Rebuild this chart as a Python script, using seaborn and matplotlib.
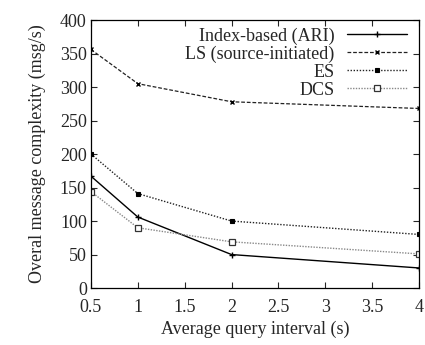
import matplotlib
matplotlib.use("Agg")
import matplotlib.pyplot as plt
import seaborn as sns
import pandas as pd

x = [0.5, 1, 2, 4]
index_based = [167, 106, 50, 30]
ls_source = [356, 305, 278, 268]
es = [200, 141, 100, 80]
dcs = [144, 90, 69, 51]
labels = ["Index-based (ARI)", "LS (source-initiated)", "ES", "DCS"]

sns.set_theme(style="ticks")
plt.rcParams['font.family'] = ['Liberation Serif', 'DejaVu Serif']
plt.rcParams['font.size'] = 13

fig, ax = plt.subplots(figsize=(4.25, 3.45), dpi=100)
fig.subplots_adjust(left=0.214, right=0.986, top=0.942, bottom=0.165)

series = [index_based, ls_source, es, dcs]
styles = [
    dict(color="black", linestyle="-", marker="+", markersize=4, lw=1.0, markeredgecolor="black", markeredgewidth=1.0),
    dict(color="#222222", linestyle=(0, (3, 1.5)), marker="x", markersize=3.5, lw=0.9, markeredgecolor="black", markeredgewidth=1.0),
    dict(color="#222222", linestyle=(0, (1, 1.2)), marker="s", markersize=3, lw=1.0, markerfacecolor="black", markeredgecolor="black", markeredgewidth=0.8),
    dict(color="#888888", linestyle=(0, (1, 1)), marker="s", markersize=4, lw=1.0, markerfacecolor="white", markeredgecolor="#333333", markeredgewidth=0.9),
]
for vals, lab, st in zip(series, labels, styles):
    df = pd.DataFrame({"x": x, "y": vals})
    sns.lineplot(data=df, x="x", y="y", ax=ax, label=lab, **st)

ax.set_xlim(0.5, 4)
ax.set_ylim(0, 400)
ax.set_xticks([0.5, 1, 1.5, 2, 2.5, 3, 3.5, 4])
ax.set_xticklabels(["0.5", "1", "1.5", "2", "2.5", "3", "3.5", "4"])
ax.set_yticks(range(0, 401, 50))
ax.set_xlabel("Average query interval (s)", fontsize=13, labelpad=3)
ax.set_ylabel("Overal message complexity (msg/s)", fontsize=13, labelpad=10)
ax.tick_params(axis="both", direction="in", top=True, right=True, length=4, width=0.8, labelsize=13)
ax.tick_params(axis="x", pad=8)
ax.tick_params(axis="y", pad=3)
for s in ax.spines.values():
    s.set_linewidth(0.9)
    s.set_color("black")
ax.legend(loc="upper right", frameon=False, markerfirst=False, fontsize=13,
          handlelength=3.3, labelspacing=0.05, borderaxespad=0.0, handletextpad=0.7,
          bbox_to_anchor=(0.985, 1.0))
fig.savefig("out.png", dpi=100)
